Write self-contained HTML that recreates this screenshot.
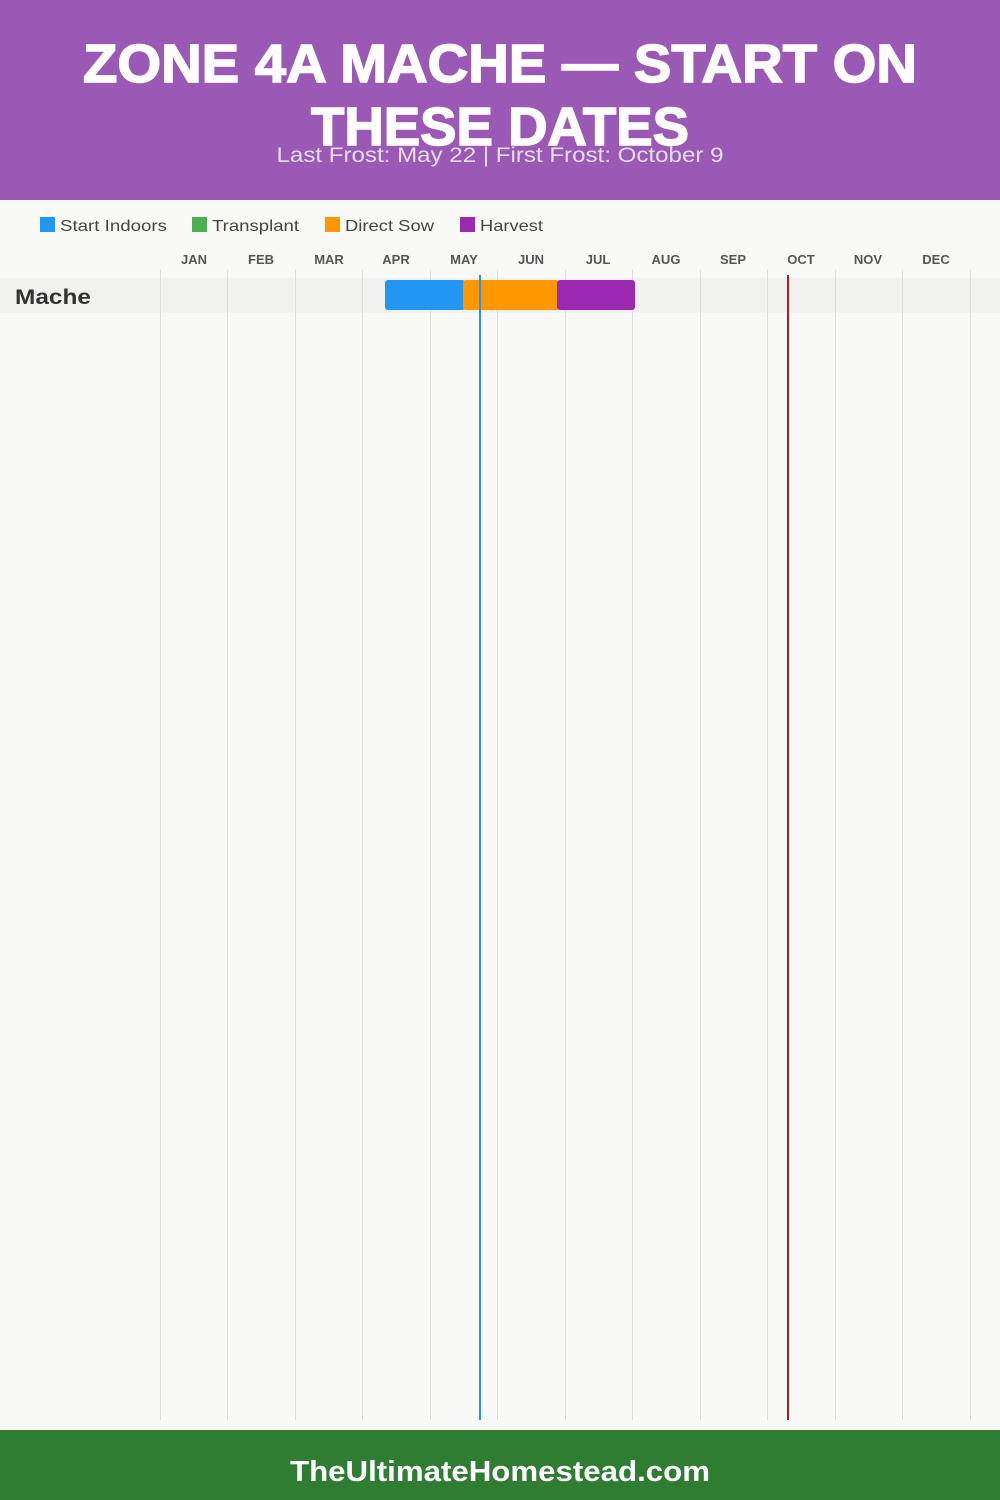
<!DOCTYPE html>
<html><head><meta charset="utf-8"><style>
html,body{margin:0;padding:0;}
body{width:1000px;height:1500px;position:relative;background:#f9f9f7;font-family:"Liberation Sans",sans-serif;overflow:hidden;}
.abs{position:absolute;}
</style></head><body>
<div class="abs" style="left:0;top:0;width:1000px;height:200px;background:#9b59b6;"></div>
<svg class="abs" style="left:0;top:0" width="1000" height="200">
<g stroke="#fff" stroke-width="1.5">
<text x="500" y="82" text-anchor="middle" font-family="Liberation Sans" font-weight="bold" font-size="54" fill="#fff" textLength="834" lengthAdjust="spacingAndGlyphs">ZONE 4A MACHE — START ON</text>
<text x="500" y="145" text-anchor="middle" font-family="Liberation Sans" font-weight="bold" font-size="54" fill="#fff" textLength="378" lengthAdjust="spacingAndGlyphs">THESE DATES</text>
</g>
<text x="500" y="162" text-anchor="middle" font-family="Liberation Sans" font-size="21" fill="#e6dcef" textLength="447" lengthAdjust="spacingAndGlyphs">Last Frost: May 22 | First Frost: October 9</text>
</svg>
<svg class="abs" style="left:0;top:200px" width="1000" height="1230">
<g font-family="Liberation Sans" font-size="16" fill="#444">
<rect x="40" y="17" width="15" height="15" fill="#2196f3"/><text x="60" y="31" textLength="107" lengthAdjust="spacingAndGlyphs">Start Indoors</text>
<rect x="192" y="17" width="15" height="15" fill="#4caf50"/><text x="212" y="31" textLength="87" lengthAdjust="spacingAndGlyphs">Transplant</text>
<rect x="325" y="17" width="15" height="15" fill="#ff9800"/><text x="345" y="31" textLength="89" lengthAdjust="spacingAndGlyphs">Direct Sow</text>
<rect x="460" y="17" width="15" height="15" fill="#9c27b0"/><text x="480" y="31" textLength="63" lengthAdjust="spacingAndGlyphs">Harvest</text>
</g>
<g font-family="Liberation Sans" font-size="13" font-weight="bold" fill="#555" text-anchor="middle">
<text x="194" y="64">JAN</text><text x="261" y="64">FEB</text><text x="329" y="64">MAR</text><text x="396" y="64">APR</text><text x="464" y="64">MAY</text><text x="531" y="64">JUN</text><text x="598" y="64">JUL</text><text x="666" y="64">AUG</text><text x="733" y="64">SEP</text><text x="801" y="64">OCT</text><text x="868" y="64">NOV</text><text x="936" y="64">DEC</text>
</g>
<rect x="0" y="78" width="1000" height="35" fill="#f1f1ef"/>
<g stroke="#dedede" stroke-width="1">
<line x1="160.5" y1="70" x2="160.5" y2="1220"/><line x1="227.5" y1="70" x2="227.5" y2="1220"/><line x1="295.5" y1="70" x2="295.5" y2="1220"/><line x1="362.5" y1="70" x2="362.5" y2="1220"/><line x1="430.5" y1="70" x2="430.5" y2="1220"/><line x1="497.5" y1="70" x2="497.5" y2="1220"/><line x1="565.5" y1="70" x2="565.5" y2="1220"/><line x1="632.5" y1="70" x2="632.5" y2="1220"/><line x1="700.5" y1="70" x2="700.5" y2="1220"/><line x1="767.5" y1="70" x2="767.5" y2="1220"/><line x1="835.5" y1="70" x2="835.5" y2="1220"/><line x1="902.5" y1="70" x2="902.5" y2="1220"/><line x1="970.5" y1="70" x2="970.5" y2="1220"/>
</g>
<text x="15" y="104" font-family="Liberation Sans" font-weight="bold" font-size="21" fill="#333" textLength="76" lengthAdjust="spacingAndGlyphs">Mache</text>
<rect x="385" y="80" width="80" height="30" rx="3" fill="#2196f3"/>
<rect x="463" y="80" width="96" height="30" rx="3" fill="#ff9800"/>
<rect x="557" y="80" width="78" height="30" rx="3" fill="#9c27b0"/>
<line x1="480" y1="75" x2="480" y2="1220" stroke="#2196f3" stroke-width="2"/>
<line x1="788" y1="75" x2="788" y2="1220" stroke="#b71c1c" stroke-width="2"/>
</svg>
<div class="abs" style="left:0;top:1430px;width:1000px;height:70px;background:#2e7d32;"></div>
<svg class="abs" style="left:0;top:1430px" width="1000" height="70">
<text x="500" y="51" text-anchor="middle" font-family="Liberation Sans" font-weight="bold" font-size="29" fill="#fff" textLength="420" lengthAdjust="spacingAndGlyphs">TheUltimateHomestead.com</text>
</svg>
</body></html>
